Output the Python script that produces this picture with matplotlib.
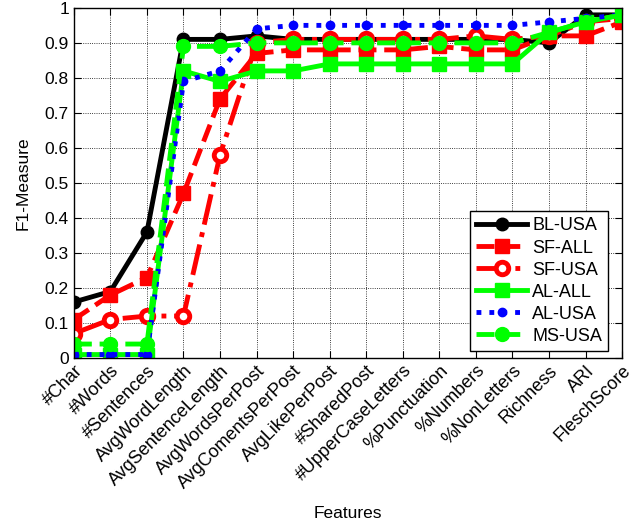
import matplotlib
matplotlib.use("Agg")
import matplotlib.pyplot as plt
import numpy as np

plt.rcParams['font.family'] = ['Liberation Sans', 'DejaVu Sans']

# Dados
features = ["#Char", "#Words", "#Sentences", "AvgWordLength", "AvgSentenceLength",
            "AvgWordsPerPost", "AvgComentsPerPost", "AvgLikePerPost", "#SharedPost",
            "#UpperCaseLetters", "%Punctuation", "%Numbers", "%NonLetters",
            "Richness", "ARI", "FleschScore"]

bl_usa = [0.16, 0.19, 0.36, 0.91, 0.91, 0.92, 0.91, 0.91, 0.91, 0.91, 0.91, 0.91, 0.91, 0.90, 0.98, 0.98]
sf_all = [0.11, 0.18, 0.23, 0.47, 0.74, 0.87, 0.88, 0.88, 0.88, 0.88, 0.89, 0.88, 0.88, 0.92, 0.92, 0.96]
sf_usa = [0.07, 0.11, 0.12, 0.12, 0.58, 0.90, 0.91, 0.91, 0.91, 0.91, 0.91, 0.92, 0.91, 0.92, 0.96, 0.97]
al_all = [0.01, 0.01, 0.01, 0.82, 0.79, 0.82, 0.82, 0.84, 0.84, 0.84, 0.84, 0.84, 0.84, 0.93, 0.96, 0.98]
al_usa = [0.01, 0.01, 0.01, 0.79, 0.82, 0.94, 0.95, 0.95, 0.95, 0.95, 0.95, 0.95, 0.95, 0.96, 0.97, 0.98]
ms_usa = [0.04, 0.04, 0.04, 0.89, 0.89, 0.90, 0.90, 0.90, 0.90, 0.90, 0.90, 0.90, 0.90, 0.93, 0.96, 0.98]

x = np.arange(1, len(features) + 1)

fig = plt.figure(figsize=(6.42, 5.25), dpi=100)
ax = fig.add_axes([0.115, 0.318, 0.854, 0.667])

lw = 3.5
ax.plot(x, bl_usa, '-o', color='k', lw=lw, ms=9, label='BL-USA')
ax.plot(x, sf_all, '--s', color='r', lw=lw, ms=10, label='SF-ALL')
ax.plot(x, sf_usa, '-.o', color='r', lw=lw, ms=9, mfc='white', mew=3.5, label='SF-USA')
ax.plot(x, al_all, '-s', color='#00ff00', lw=lw, ms=10, label='AL-ALL')
ax.plot(x, al_usa, ':o', color='b', lw=lw, ms=6, label='AL-USA')
ax.plot(x, ms_usa, '--o', color='#00ff00', lw=lw, ms=10, label='MS-USA')

ax.set_xlim(1, len(features))
ax.set_ylim(0, 1)
ax.set_xticks(x)
ax.set_xticklabels(features, rotation=45, ha='right', rotation_mode='anchor', fontsize=13)
ax.set_yticks(np.arange(0, 1.01, 0.1))
ax.set_yticklabels(['0', '0.1', '0.2', '0.3', '0.4', '0.5', '0.6', '0.7', '0.8', '0.9', '1'], fontsize=12.5)
ax.tick_params(direction='in', top=True, right=True, length=5)
ax.tick_params(axis='x', pad=3)
ax.grid(True, linestyle=':', color='k', linewidth=0.6)
ax.set_xlabel('Features', fontsize=12.5, labelpad=10)
ax.set_ylabel('F1-Measure', fontsize=12.5, labelpad=10)
for s in ax.spines.values():
    s.set_linewidth(1.0)

leg = ax.legend(loc='lower right', bbox_to_anchor=(0.975, 0.02), fontsize=13,
                fancybox=False, framealpha=1, edgecolor='k', handlelength=2.8,
                borderaxespad=0, labelspacing=0.28, handletextpad=0.3, borderpad=0.35)
leg.get_frame().set_linewidth(1.0)

fig.savefig('out.png', dpi=100)
